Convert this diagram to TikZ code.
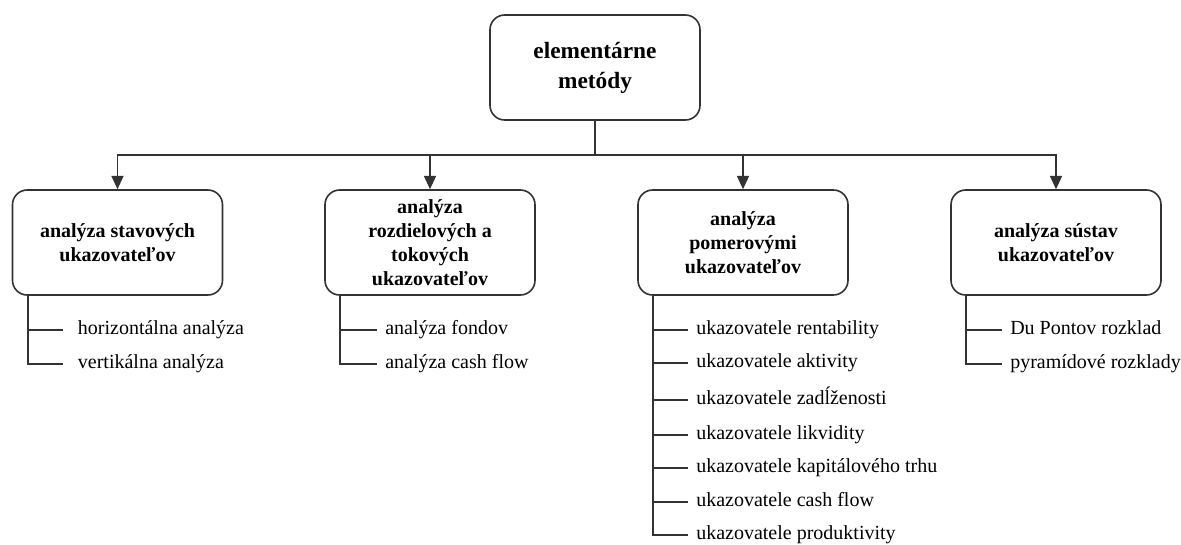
\documentclass[tikz,border=0pt]{standalone}
\usepackage{fontspec}
\setmainfont{Liberation Serif}
\usetikzlibrary{arrows.meta}
\begin{document}
\begin{tikzpicture}[x=0.75pt,y=-0.75pt]
    \tikzstyle{group}=[draw=black!80,line width=1.2pt,rounded corners=11pt,minimum width=157.5pt,minimum height=78.75pt,align=center,inner sep=2pt,font=\fontsize{15}{18}\selectfont\bfseries]
    \tikzstyle{root}=[group,font=\fontsize{17.5}{22.5}\selectfont\bfseries]
    \tikzstyle{item}=[anchor=west,inner xsep=6pt,inner ysep=0pt,text height=10.5pt,text depth=3.3pt,font=\fontsize{15}{18}\selectfont]
    \tikzstyle{link}=[draw=black!80,line width=1.2pt]
    \tikzstyle{arrow}=[link,-{Triangle[length=10pt,width=9pt]}]

    \useasboundingbox (0,0) rectangle (1181,544);

    % root and the four groups
    \node[root] at (595,67.5) (top) {elementárne\\metódy};
    \coordinate (split) at (595,155);

    \node[group] at (117.5,242.5) (b1) {analýza stavových\\ukazovateľov};
    \node[group] at (430,242.5) (b2) {analýza\\rozdielových a\\tokových\\ukazovateľov};
    \node[group] at (743,242.5) (b3) {analýza\\pomerovými\\ukazovateľov};
    \node[group] at (1056,242.5) (b4) {analýza sústav\\ukazovateľov};

    \draw[link] (top) -- (split);
    \draw[arrow] (split) -| (b1);
    \draw[arrow] (split) -| (b2);
    \draw[arrow] (split) -| (b3);
    \draw[arrow] (split) -| (b4);

    % stavove
    \node[item,inner xsep=11pt] at (63,330) (i11) {horizontálna analýza};
    \node[item,inner xsep=11pt] at (63,364) (i12) {vertikálna analýza};
    \draw[link] ([xshift=12pt]b1.south west) |- (i11.west);
    \draw[link] ([xshift=12pt]b1.south west) |- (i12.west);

    % rozdielove a tokove
    \node[item] at (377,330) (i21) {analýza fondov};
    \node[item] at (377,364) (i22) {analýza cash flow};
    \draw[link] ([xshift=12pt]b2.south west) |- (i21.west);
    \draw[link] ([xshift=12pt]b2.south west) |- (i22.west);

    % pomerove
    \node[item] at (688,330) (i31) {ukazovatele rentability};
    \node[item] at (688,363) (i32) {ukazovatele aktivity};
    \node[item] at (688,400) (i33) {ukazovatele zadĺženosti};
    \node[item] at (688,435) (i34) {ukazovatele likvidity};
    \node[item] at (688,468) (i35) {ukazovatele kapitálového trhu};
    \node[item] at (688,502) (i36) {ukazovatele cash flow};
    \node[item] at (688,535) (i37) {ukazovatele produktivity};
    \draw[link] ([xshift=12pt]b3.south west) |- (i31.west);
    \draw[link] ([xshift=12pt]b3.south west) |- (i32.west);
    \draw[link] ([xshift=12pt]b3.south west) |- (i33.west);
    \draw[link] ([xshift=12pt]b3.south west) |- (i34.west);
    \draw[link] ([xshift=12pt]b3.south west) |- (i35.west);
    \draw[link] ([xshift=12pt]b3.south west) |- (i36.west);
    \draw[link] ([xshift=12pt]b3.south west) |- (i37.west);

    % sustavy
    \node[item] at (1002,330) (i41) {Du Pontov rozklad};
    \node[item] at (1002,364) (i42) {pyramídové rozklady};
    \draw[link] ([xshift=12pt]b4.south west) |- (i41.west);
    \draw[link] ([xshift=12pt]b4.south west) |- (i42.west);
\end{tikzpicture}
\end{document}
